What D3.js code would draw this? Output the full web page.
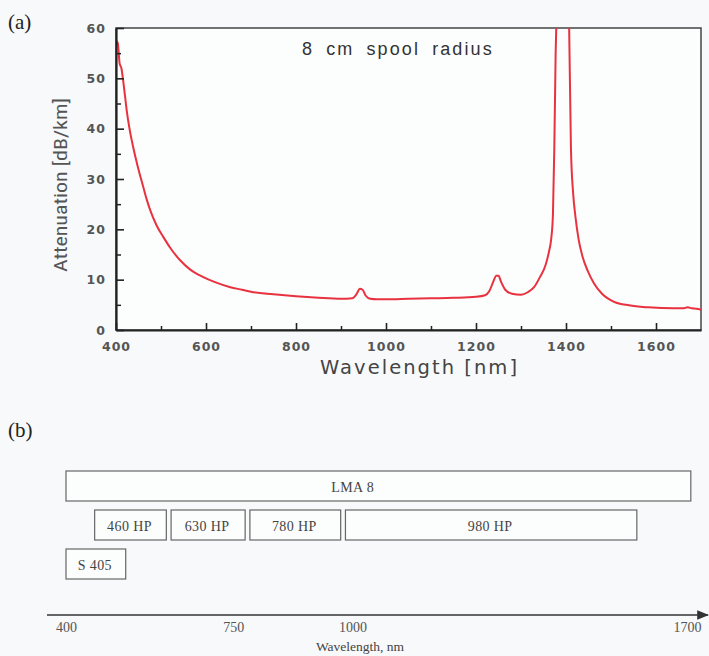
<!DOCTYPE html>
<html>
<head>
<meta charset="utf-8">
<script src="https://cdn.jsdelivr.net/npm/d3@7"></script>
<style>
  html, body { margin: 0; padding: 0; background: #f7f9fa; }
  svg { display: block; }
</style>
</head>
<body>
<div id="chart"></div>
<script>
// (a) attenuation spectrum
const wavelengths = [400, 404, 408, 412, 416, 420, 424, 430, 438, 448, 460, 468, 476, 490, 505, 520, 542, 565, 594,
  620, 654, 680, 700, 750, 800, 850, 900, 925, 935, 942, 948, 955, 965, 980, 1000, 1050, 1100, 1150, 1200,
  1220, 1230, 1238, 1245, 1250, 1256, 1265, 1280, 1300, 1315, 1329, 1342, 1355, 1362, 1367, 1371, 1374,
  1377, 1381, 1386, 1392, 1398, 1403, 1407, 1411, 1416, 1421, 1428, 1437, 1448, 1462, 1480, 1507,
  1540, 1583, 1640, 1660, 1670, 1680, 1690, 1700];
const attenuation = [57.5, 57, 53, 52, 49.5, 46.5, 43.5, 40, 36.4, 32.6, 28.6, 26, 23.8, 20.8, 18.5, 16.4, 13.9, 12, 10.5,
  9.5, 8.5, 8, 7.6, 7.1, 6.7, 6.4, 6.2, 6.3, 7.2, 8.2, 8, 6.8, 6.2, 6.1, 6.1, 6.2, 6.3, 6.4, 6.6,
  6.9, 7.8, 9.5, 10.8, 10.8, 9.5, 8, 7.2, 7, 7.5, 8.5, 10.5, 13, 15.5, 18, 23, 36,
  55, 70, 80, 82, 78, 68, 60, 36, 27, 22.5, 18, 14.5, 11.8, 9.3, 7.2, 5.6,
  4.9, 4.5, 4.3, 4.3, 4.5, 4.3, 4.2, 4.0];
const yTicksA = [0, 10, 20, 30, 40, 50, 60];
const xTicksA = [400, 600, 800, 1000, 1200, 1400, 1600];

// (b) fibre operating ranges
const bandNames = ["LMA 8", "460 HP", "630 HP", "780 HP", "980 HP", "S 405"];
const bandStart = [400, 460, 620, 785, 985, 400];
const bandEnd = [1708, 610, 775, 975, 1595, 525];
const bandRow = [0, 1, 1, 1, 1, 2];
const xTicksB = [400, 750, 1000, 1700];

const W = 709, H = 656;
const svg = d3.select("#chart").append("svg")
  .attr("width", W).attr("height", H);

// ---------- panel (a) ----------
const pLeft = 116, pRight = 701, pTop = 28, pBottom = 330;
const x = d3.scaleLinear().domain([400, 1700]).range([pLeft, pRight]);
const y = d3.scaleLinear().domain([0, 60]).range([pBottom, pTop]);

svg.append("text").attr("x", 8).attr("y", 29)
  .attr("font-family", "Liberation Serif, serif").attr("font-size", 21).attr("fill", "#222")
  .text("(a)");

svg.append("rect").attr("x", pLeft).attr("y", pTop)
  .attr("width", pRight - pLeft).attr("height", pBottom - pTop)
  .attr("fill", "#fcfdfd").attr("stroke", "#444").attr("stroke-width", 1.5);

svg.append("defs").append("clipPath").attr("id", "plotClip")
  .append("rect").attr("x", pLeft).attr("y", pTop)
  .attr("width", pRight - pLeft).attr("height", pBottom - pTop);

const pts = wavelengths.map((w, i) => [w, attenuation[i]]);
const line = d3.line().x(d => x(d[0])).y(d => y(d[1])).curve(d3.curveMonotoneX);
svg.append("path").datum(pts)
  .attr("clip-path", "url(#plotClip)")
  .attr("d", line).attr("fill", "none")
  .attr("stroke", "#e8323f").attr("stroke-width", 2);

const tickFont = g => g.selectAll("text")
  .attr("font-family", "DejaVu Sans, sans-serif").attr("font-size", 12.5)
  .attr("font-weight", "bold").attr("fill", "#555").attr("letter-spacing", 1);

// minor ticks
svg.append("g").attr("transform", `translate(${pLeft},0)`)
  .call(d3.axisLeft(y).tickValues(d3.range(5, 60, 10)).tickSize(-5).tickFormat(""))
  .call(g => g.select(".domain").remove())
  .call(g => g.selectAll("line").attr("stroke", "#222").attr("stroke-width", 1.5));
svg.append("g").attr("transform", `translate(0,${pBottom})`)
  .call(d3.axisBottom(x).tickValues(d3.range(500, 1700, 200)).tickSize(-4).tickFormat(""))
  .call(g => g.select(".domain").remove())
  .call(g => g.selectAll("line").attr("stroke", "#222").attr("stroke-width", 1.5));

// major ticks
svg.append("g").attr("transform", `translate(${pLeft},0)`)
  .call(d3.axisLeft(y).tickValues(yTicksA).tickFormat(d3.format("d"))
    .tickSizeInner(-8).tickSizeOuter(0).tickPadding(10))
  .call(g => g.select(".domain").attr("stroke", "#222").attr("stroke-width", 2.2))
  .call(g => g.selectAll("line").attr("stroke", "#222").attr("stroke-width", 1.6))
  .call(tickFont);
svg.append("g").attr("transform", `translate(0,${pBottom})`)
  .call(d3.axisBottom(x).tickValues(xTicksA).tickFormat(d3.format("d"))
    .tickSizeInner(-7).tickSizeOuter(0).tickPadding(12))
  .call(g => g.select(".domain").attr("stroke", "#222").attr("stroke-width", 2.2))
  .call(g => g.selectAll("line").attr("stroke", "#222").attr("stroke-width", 1.6))
  .call(tickFont);

svg.append("text").attr("x", 302).attr("y", 55)
  .attr("font-family", "Liberation Sans, Arial, sans-serif").attr("font-size", 18)
  .attr("fill", "#333").attr("letter-spacing", 2.1).attr("word-spacing", 5)
  .text("8 cm spool radius");

svg.append("text").attr("x", 320).attr("y", 374)
  .attr("font-family", "DejaVu Sans, sans-serif").attr("font-size", 19.5)
  .attr("fill", "#444").attr("textLength", 197).attr("lengthAdjust", "spacing")
  .text("Wavelength [nm]");

svg.append("text")
  .attr("transform", "translate(67,185) rotate(-90)")
  .attr("text-anchor", "middle")
  .attr("font-family", "Liberation Sans Narrow, Roboto Condensed, sans-serif").attr("font-size", 19)
  .attr("fill", "#555").attr("textLength", 174).attr("lengthAdjust", "spacingAndGlyphs")
  .text("Attenuation [dB/km]");

// ---------- panel (b) ----------
svg.append("text").attr("x", 8).attr("y", 437)
  .attr("font-family", "Liberation Serif, serif").attr("font-size", 21).attr("fill", "#222")
  .text("(b)");

const xb = d3.scaleLinear().domain([400, 1700]).range([66, 687]);
const rowY = d3.scaleLinear().domain([0, 2]).range([471, 549]);
const boxH = 30;

const boxes = svg.append("g").selectAll("g")
  .data(bandNames.map((n, i) => ({ name: n, s: bandStart[i], e: bandEnd[i], row: bandRow[i] })))
  .enter().append("g");
boxes.append("rect")
  .attr("x", d => xb(d.s)).attr("y", d => rowY(d.row))
  .attr("width", d => xb(d.e) - xb(d.s)).attr("height", boxH)
  .attr("fill", "#fcfdfd").attr("stroke", "#666").attr("stroke-width", 1.2);
boxes.append("text")
  // the wide LMA 8 label sits over 1000 nm rather than in the box middle
  .attr("x", d => d.name === "LMA 8" ? xb(1000) : (xb(d.s) + xb(d.e)) / 2 - 1)
  .attr("y", d => rowY(d.row) + boxH / 2 + 5.5)
  .attr("text-anchor", "middle")
  .attr("font-family", "Liberation Serif, serif").attr("font-size", 14).attr("fill", "#444")
  .attr("letter-spacing", 0.4)
  .text(d => d.name);

// axis with arrow
svg.select("defs").append("marker").attr("id", "arrow")
  .attr("viewBox", "0 0 10 10").attr("refX", 9).attr("refY", 5)
  .attr("markerWidth", 8).attr("markerHeight", 8).attr("orient", "auto")
  .append("path").attr("d", "M0,1L10,5L0,9Z").attr("fill", "#333");
svg.append("line").attr("x1", 47).attr("x2", 708).attr("y1", 615).attr("y2", 615)
  .attr("stroke", "#333").attr("stroke-width", 1.5).attr("marker-end", "url(#arrow)");

svg.append("g").attr("transform", "translate(0,615)")
  .call(d3.axisBottom(xb).tickValues(xTicksB).tickFormat(d3.format("d")).tickSize(0).tickPadding(7))
  .call(g => g.select(".domain").remove())
  .call(g => g.selectAll("text").attr("font-family", "Liberation Serif, serif")
    .attr("font-size", 14).attr("fill", "#555"));

svg.append("text").attr("x", 360).attr("y", 651).attr("text-anchor", "middle")
  .attr("font-family", "Liberation Serif, serif").attr("font-size", 13.5).attr("fill", "#444")
  .text("Wavelength, nm");
</script>
</body>
</html>
